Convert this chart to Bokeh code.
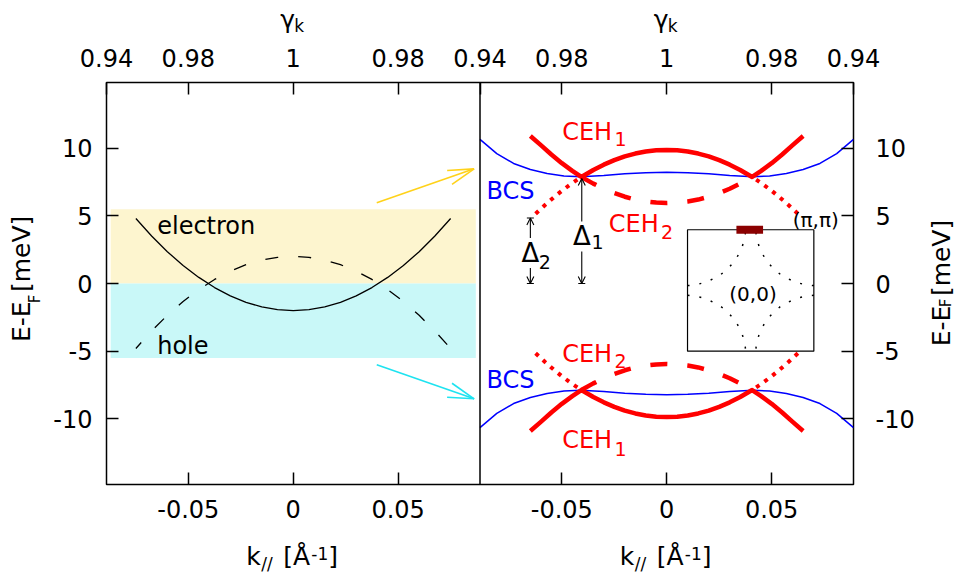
import math
from bokeh.plotting import figure
from bokeh.models import Range1d, LinearAxis, FixedTicker, Label, Arrow, OpenHead, Span
from bokeh.layouts import row, column
from bokeh.embed import file_html
from bokeh.resources import INLINE

FONT = "DejaVu Sans"

# ---------------- data ----------------
K_LIM = 0.089          # half width of each panel in k (1/A)
E_LIM = 14.85          # half height in meV
x_ticks = [-0.05, 0.0, 0.05]
x_tick_labels = ["-0.05", "0", "0.05"]
top_ticks = [-K_LIM, -0.05, 0.0, 0.05]
top_tick_labels = ["0.94", "0.98", "1", "0.98"]
edge_tick_label = "0.94"
y_ticks = [-10, -5, 0, 5, 10]
y_tick_labels = ["-10", "-5", "0", "5", "10"]

# left panel: normal-state bands
k_band = [-0.075, -0.0675, -0.06, -0.0525, -0.045, -0.0375, -0.03, -0.0225, -0.015, -0.0075, 0.0,
          0.0075, 0.015, 0.0225, 0.03, 0.0375, 0.045, 0.0525, 0.06, 0.0675, 0.075]
e_electron = [4.80, 3.51, 2.35, 1.33, 0.45, -0.30, -0.91, -1.39, -1.73, -1.93, -2.00,
              -1.93, -1.73, -1.39, -0.91, -0.30, 0.45, 1.33, 2.35, 3.51, 4.80]
e_hole = [-4.80, -3.51, -2.35, -1.33, -0.45, 0.30, 0.91, 1.39, 1.73, 1.93, 2.00,
          1.93, 1.73, 1.39, 0.91, 0.30, -0.45, -1.33, -2.35, -3.51, -4.80]
shade_k = [-0.087, 0.087]
shade_electron = [0.0, 5.48]
shade_hole = [-5.5, 0.0]
arrow_k = [0.0398, 0.0862]
arrow_up_e = [5.96, 8.47]
arrow_dn_e = [-6.01, -8.52]

# right panel: superconducting state
k_bcs = [-0.089, -0.081, -0.073, -0.065, -0.057, -0.049, -0.041, -0.03, -0.02, -0.01, 0.0,
         0.01, 0.02, 0.03, 0.041, 0.049, 0.057, 0.065, 0.073, 0.081, 0.089]
e_bcs_up = [10.65, 9.60, 8.87, 8.42, 8.12, 7.95, 7.88, 7.98, 8.10, 8.18, 8.22,
            8.18, 8.10, 7.98, 7.88, 7.95, 8.12, 8.42, 8.87, 9.60, 10.65]
e_bcs_dn = [-10.65, -9.60, -8.87, -8.42, -8.12, -7.95, -7.88, -7.98, -8.10, -8.18, -8.22,
            -8.18, -8.10, -7.98, -7.88, -7.95, -8.12, -8.42, -8.87, -9.60, -10.65]

k_ceh1 = [-0.065, -0.06, -0.055, -0.05, -0.045, -0.0407, -0.035, -0.03, -0.025, -0.02, -0.015,
          -0.01, -0.005, 0.0, 0.005, 0.01, 0.015, 0.02, 0.025, 0.03, 0.035, 0.0407, 0.045,
          0.05, 0.055, 0.06, 0.065]
e_ceh1_up = [10.90, 10.22, 9.53, 8.89, 8.32, 7.87, 8.39, 8.78, 9.11, 9.39, 9.60,
             9.75, 9.84, 9.87, 9.84, 9.75, 9.60, 9.39, 9.11, 8.78, 8.39, 7.87, 8.32,
             8.89, 9.53, 10.22, 10.90]
e_ceh1_dn = [-10.90, -10.22, -9.53, -8.89, -8.32, -7.87, -8.39, -8.78, -9.11, -9.39, -9.60,
             -9.75, -9.84, -9.87, -9.84, -9.75, -9.60, -9.39, -9.11, -8.78, -8.39, -7.87, -8.32,
             -8.89, -9.53, -10.22, -10.90]

k_ceh2 = [-0.0407, -0.035, -0.03, -0.025, -0.02, -0.015, -0.01, -0.005, 0.0,
          0.005, 0.01, 0.015, 0.02, 0.025, 0.03, 0.035, 0.0407]
e_ceh2_up = [7.87, 7.38, 7.00, 6.68, 6.41, 6.20, 6.06, 5.98, 5.95,
             5.98, 6.06, 6.20, 6.41, 6.68, 7.00, 7.38, 7.87]
e_ceh2_dn = [-7.87, -7.38, -7.00, -6.68, -6.41, -6.20, -6.06, -5.98, -5.95,
             -5.98, -6.06, -6.20, -6.41, -6.68, -7.00, -7.38, -7.87]

k_ceh2_out_l = [-0.0625, -0.058, -0.054, -0.05, -0.0455, -0.0407]
k_ceh2_out_r = [0.0625, 0.058, 0.054, 0.05, 0.0455, 0.0407]
e_ceh2_out_up = [5.15, 5.80, 6.34, 6.85, 7.37, 7.87]
e_ceh2_out_dn = [-5.15, -5.80, -6.34, -6.85, -7.37, -7.87]

delta1 = dict(k=-0.0405, top=7.75, bottom=0.0)
delta2 = dict(k=-0.065, top=4.84, bottom=0.0)

# inset (Brillouin-zone sketch) in the right panel
inset_k = [0.0099, 0.0701]
inset_e = [-5.0, 3.97]
inset_bar_k = [0.0332, 0.0459]
inset_bar_e = [3.67, 4.26]
fs_u = [1.0, 0.88, 0.70, 0.50, 0.36, 0.24, 0.14, 0.09, 0.08]   # one Fermi-surface arc (units of pi)
fs_v = [0.08, 0.09, 0.14, 0.24, 0.36, 0.50, 0.70, 0.88, 1.0]

# ---------------- geometry of the page ----------------
W, H = 955, 574
TOP_H, BOT_H, LEFT_W, RIGHT_W = 40, 44, 50, 35
MAIN_W = W - LEFT_W - RIGHT_W          # 870
MAIN_H = H - TOP_H - BOT_H             # 490
B_LEFT, B_RIGHT, B_TOP, B_BOT = 56, 67, 42, 46
FRAME_W = MAIN_W - B_LEFT - B_RIGHT    # 747
FRAME_H = MAIN_H - B_TOP - B_BOT       # 402
OFF = 2 * K_LIM                        # right panel is shifted by one panel width
X0, X1 = -K_LIM, OFF + K_LIM
SX = FRAME_W / (X1 - X0)
SY = FRAME_H / (2 * E_LIM)
FRAME_LEFT_PAGE = LEFT_W + B_LEFT      # 106
FRAME_TOP_PAGE = TOP_H + B_TOP         # 82
ZERO_PAGE = FRAME_TOP_PAGE + E_LIM * SY
MID = 0.35                             # font-box middle above the baseline, in em


def main_map(px, py):
    return (px - FRAME_LEFT_PAGE) / SX + X0, (ZERO_PAGE - py) / SY


def page_map(px, py):
    return px, H - py


def page_x(k):
    return FRAME_LEFT_PAGE + (k - X0) * SX


def lab(fig, fmap, px, py_base, text, size=24, color="black", align="left", bg=None):
    x, y = fmap(px, py_base - MID * size)
    l = Label(x=x, y=y, text=text, text_font=FONT, text_font_size=f"{size}px",
              text_color=color, text_align=align, text_baseline="middle")
    if bg is not None:
        l.background_fill_color = bg
    fig.add_layout(l)


def lab_up(fig, fmap, px_base, py_start, text, size, length):
    """text rotated 90 deg, reading upwards; placed by its centre"""
    x, y = fmap(px_base - MID * size, py_start - length / 2)
    fig.add_layout(Label(x=x, y=y, text=text, text_font=FONT, text_font_size=f"{size}px",
                         text_color="black", text_align="center", text_baseline="middle",
                         angle=math.pi / 2))


# ---------------- main figure (both panels) ----------------
p = figure(width=MAIN_W, height=MAIN_H, x_range=Range1d(X0, X1),
           y_range=Range1d(-E_LIM, E_LIM), output_backend="svg",
           toolbar_location=None, x_axis_location=None, y_axis_location=None,
           min_border_left=B_LEFT, min_border_right=B_RIGHT,
           min_border_top=B_TOP, min_border_bottom=B_BOT)
p.xgrid.visible = False
p.ygrid.visible = False
p.outline_line_color = "black"
p.outline_line_width = 1.5
p.background_fill_color = "white"
p.border_fill_color = "white"


def style(ax, standoff):
    ax.major_tick_in = 12
    ax.major_tick_out = 0
    ax.minor_tick_in = 0
    ax.minor_tick_out = 0
    ax.axis_line_color = None
    ax.major_tick_line_color = "black"
    ax.major_tick_line_width = 1.5
    ax.major_label_text_font = FONT
    ax.major_label_text_font_size = "24px"
    ax.major_label_text_color = "black"
    ax.major_label_standoff = standoff


bt = x_ticks + [OFF + t for t in x_ticks]
bl = x_tick_labels + x_tick_labels
bottom = LinearAxis(ticker=FixedTicker(ticks=bt),
                    major_label_overrides={t: s for t, s in zip(bt, bl)})
style(bottom, 15)
p.add_layout(bottom, "below")

tt = top_ticks + [K_LIM] + [OFF + t for t in top_ticks[1:]] + [OFF + K_LIM]
tl = top_tick_labels + [edge_tick_label] + top_tick_labels[1:] + [edge_tick_label]
top = LinearAxis(ticker=FixedTicker(ticks=tt),
                 major_label_overrides={t: s for t, s in zip(tt, tl)})
style(top, 16)
p.add_layout(top, "above")

for side, so in (("left", 14), ("right", 22)):
    yax = LinearAxis(ticker=FixedTicker(ticks=y_ticks),
                     major_label_overrides={t: s for t, s in zip(y_ticks, y_tick_labels)})
    style(yax, so)
    p.add_layout(yax, side)

p.add_layout(Span(location=K_LIM, dimension="height", line_color="black", line_width=1.5))

# ---- left panel ----
p.quad(left=shade_k[0], right=shade_k[1], bottom=shade_electron[0], top=shade_electron[1],
       fill_color="#fdf5cf", line_color=None)
p.quad(left=shade_k[0], right=shade_k[1], bottom=shade_hole[0], top=shade_hole[1],
       fill_color="#c9f8f8", line_color=None)
p.line(k_band, e_electron, line_color="black", line_width=1.3)
p.line(k_band, e_hole, line_color="black", line_width=1.3, line_dash="13 20", line_dash_offset=5)


def big_arrow(x0, y0, x1, y1, color, L=26, Wd=7.4):
    ddx, ddy = (x1 - x0) * SX, (y1 - y0) * SY
    n = math.hypot(ddx, ddy)
    ux, uy = ddx / n, ddy / n
    bx, by = x1 * SX - L * ux, y1 * SY - L * uy
    h1 = ((bx - Wd * uy) / SX, (by + Wd * ux) / SY)
    h2 = ((bx + Wd * uy) / SX, (by - Wd * ux) / SY)
    p.segment(x0=[x0, h1[0], h2[0]], y0=[y0, h1[1], h2[1]],
              x1=[x1, x1, x1], y1=[y1, y1, y1], line_color=color, line_width=1.6)


big_arrow(arrow_k[0], arrow_up_e[0], arrow_k[1], arrow_up_e[1], "#ffd21a")
big_arrow(arrow_k[0], arrow_dn_e[0], arrow_k[1], arrow_dn_e[1], "#1ee3f0")

lab(p, main_map, 156.7, 234, "electron", 24)
lab(p, main_map, 156.7, 354, "hole", 24)

# ---- right panel (shifted by OFF) ----
red = "#ff0000"
blue = "#0000ff"


def sh(ks):
    return [OFF + k for k in ks]


p.line(sh(k_bcs), e_bcs_up, line_color=blue, line_width=1.5)
p.line(sh(k_bcs), e_bcs_dn, line_color=blue, line_width=1.5)
for e_set in (e_ceh1_up, e_ceh1_dn):
    p.line(sh(k_ceh1), e_set, line_color=red, line_width=4.5, line_join="round")
for e_set in (e_ceh2_up, e_ceh2_dn):
    p.line(sh(k_ceh2), e_set, line_color=red, line_width=4.5, line_dash="17 20")
for kk in (k_ceh2_out_l, k_ceh2_out_r):
    for e_set in (e_ceh2_out_up, e_ceh2_out_dn):
        p.line(sh(kk), e_set, line_color=red, line_width=4, line_dash="4 6")

# inset
p.quad(left=OFF + inset_k[0], right=OFF + inset_k[1], bottom=inset_e[0], top=inset_e[1],
       fill_color="white", line_color="black", line_width=1.2)
ck, ce = OFF + (inset_k[0] + inset_k[1]) / 2, (inset_e[0] + inset_e[1]) / 2
hk, he = (inset_k[1] - inset_k[0]) / 2, (inset_e[1] - inset_e[0]) / 2
for su in (1, -1):
    for sv in (1, -1):
        p.line([ck + su * u * hk for u in fs_u], [ce + sv * v * he for v in fs_v],
               line_color="black", line_width=1.5, line_dash="2 10")
p.quad(left=OFF + inset_bar_k[0], right=OFF + inset_bar_k[1],
       bottom=inset_bar_e[0], top=inset_bar_e[1], fill_color="#8b0000", line_color=None)

# gap arrows
bar = 3.5 / SX
for d in (delta1, delta2):
    p.add_layout(Arrow(x_start=OFF + d["k"], y_start=d["bottom"], x_end=OFF + d["k"], y_end=d["top"],
                       line_color="black", line_width=1.1,
                       start=OpenHead(size=7, line_width=1.1, line_color="black"),
                       end=OpenHead(size=7, line_width=1.1, line_color="black")))
p.segment(x0=[OFF + delta1["k"] - bar, OFF + delta2["k"] - bar, OFF + delta2["k"] - bar],
          y0=[delta1["bottom"], delta2["bottom"], delta2["top"]],
          x1=[OFF + delta1["k"] + bar, OFF + delta2["k"] + bar, OFF + delta2["k"] + bar],
          y1=[delta1["bottom"], delta2["bottom"], delta2["top"]],
          line_color="black", line_width=1.2)

lab(p, main_map, 561.7, 140, "CEH", 24, red)
lab(p, main_map, 614, 145, "1", 19, red)
lab(p, main_map, 486, 199.3, "BCS", 24, blue)
lab(p, main_map, 608.3, 231.7, "CEH", 24, red)
lab(p, main_map, 660.5, 238.3, "2", 19, red)
lab(p, main_map, page_x(OFF + delta1["k"]), 245, "Δ", 26, align="center", bg="white")
lab(p, main_map, 591, 248.3, "1", 19)
lab(p, main_map, page_x(OFF + delta2["k"]), 261.7, "Δ", 26, align="center", bg="white")
lab(p, main_map, 538.3, 268.3, "2", 19)
lab(p, main_map, 838.3, 226.7, "(π,π)", 20, align="right")
lab(p, main_map, 752.5, 300, "(0,0)", 20, align="center")
lab(p, main_map, 561.7, 361.7, "CEH", 24, red)
lab(p, main_map, 614, 366.7, "2", 19, red)
lab(p, main_map, 486, 388.3, "BCS", 24, blue)
lab(p, main_map, 561.7, 448.3, "CEH", 24, red)
lab(p, main_map, 614, 455, "1", 19, red)


# ---------------- title strips (page-pixel coordinates) ----------------
def strip(width, height, x_page, y_page):
    f = figure(width=width, height=height, x_range=Range1d(x_page, x_page + width),
               y_range=Range1d(H - (y_page + height), H - y_page), output_backend="svg",
               toolbar_location=None, x_axis_location=None, y_axis_location=None,
               min_border_left=0, min_border_right=0, min_border_top=0, min_border_bottom=0)
    f.xgrid.visible = False
    f.ygrid.visible = False
    f.outline_line_color = None
    f.background_fill_color = "white"
    f.border_fill_color = "white"
    return f


top_strip = strip(W, TOP_H, 0, 0)
bot_strip = strip(W, BOT_H, 0, H - BOT_H)
left_strip = strip(LEFT_W, MAIN_H, 0, TOP_H)
right_strip = strip(RIGHT_W, MAIN_H, W - RIGHT_W, TOP_H)

for centre in (page_x(0.0), page_x(OFF)):
    # gamma_k above each panel
    lab(top_strip, page_map, centre - 13, 28, "γ", 25)
    lab(top_strip, page_map, centre + 1, 31, "k", 17)
    # k_// [A^-1] below each panel
    lab(bot_strip, page_map, centre - 47, 565, "k", 25)
    lab(bot_strip, page_map, centre - 32, 569, "//", 17)
    lab(bot_strip, page_map, centre - 10, 565, "[Å", 25)
    lab(bot_strip, page_map, centre + 18, 559, "-1", 17)
    lab(bot_strip, page_map, centre + 35, 565, "]", 25)

# E-E_F [meV] on both sides (lengths are the DejaVu Sans advances)
lab_up(left_strip, page_map, 29.3, 352, "E-E", 25, 40.6)
lab_up(left_strip, page_map, 40, 308, "F", 15, 8.6)
lab_up(left_strip, page_map, 29.3, 287, "[meV]", 25, 76.3)
lab_up(right_strip, page_map, 950, 357, "E-E", 25, 40.6)
lab_up(right_strip, page_map, 951, 313, "F", 15, 8.6)
lab_up(right_strip, page_map, 950, 292, "[meV]", 25, 76.3)

layout = column(top_strip, row(left_strip, p, right_strip, spacing=0), bot_strip, spacing=0)
open("out.html", "w").write(file_html(layout, INLINE))
